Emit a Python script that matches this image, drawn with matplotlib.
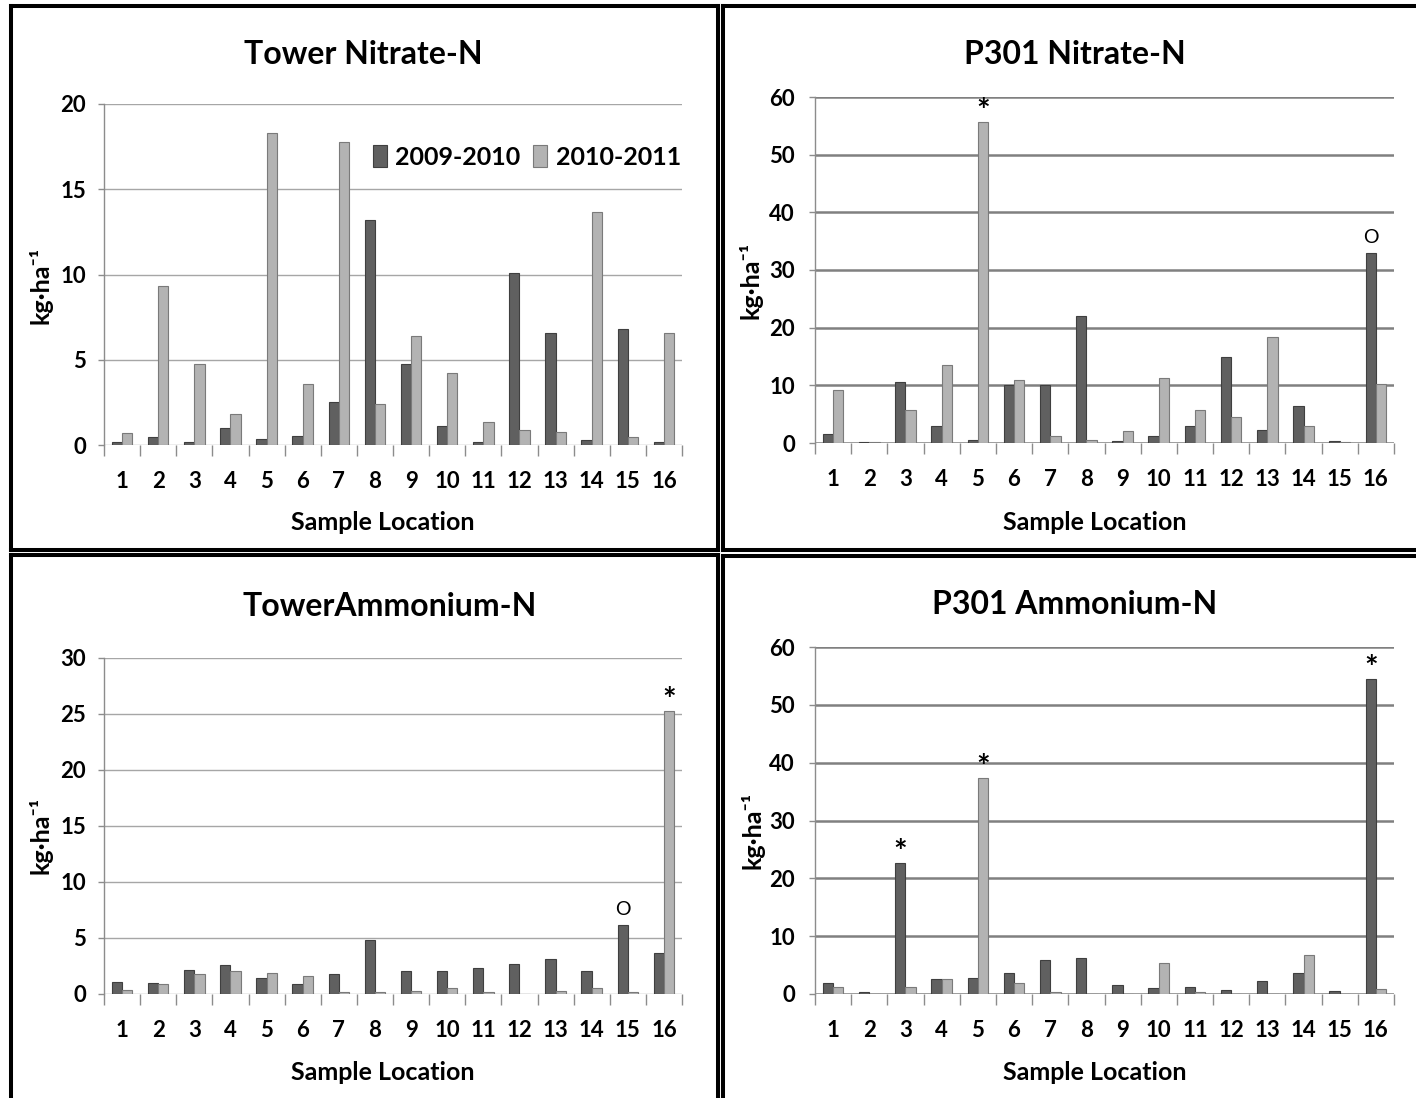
import matplotlib
matplotlib.use("Agg")
import matplotlib.pyplot as plt
from matplotlib.lines import Line2D

plt.rcParams['font.family'] = ['Lato', 'DejaVu Sans']
plt.rcParams['font.weight'] = 'bold'

# sample locations and series
locations = list(range(1, 17))
series_names = ["2009-2010", "2010-2011"]

tower_nitrate_0910 = [0.2, 0.45, 0.2, 1.0, 0.35, 0.5, 2.5, 13.2, 4.75, 1.1, 0.2, 10.1, 6.55, 0.3, 6.8, 0.15]
tower_nitrate_1011 = [0.7, 9.35, 4.75, 1.8, 18.3, 3.55, 17.8, 2.4, 6.4, 4.2, 1.35, 0.9, 0.75, 13.65, 0.45, 6.55]

p301_nitrate_0910 = [1.6, 0.15, 10.5, 2.9, 0.6, 10.1, 10.1, 22.1, 0.3, 1.3, 2.9, 14.9, 2.3, 6.5, 0.3, 33.0]
p301_nitrate_1011 = [9.25, 0.15, 5.8, 13.6, 55.6, 11.0, 1.2, 0.6, 2.15, 11.35, 5.8, 4.5, 18.45, 3.0, 0.1, 10.3]

tower_ammonium_0910 = [1.1, 1.0, 2.15, 2.6, 1.45, 0.9, 1.8, 4.8, 2.05, 2.05, 2.35, 2.7, 3.15, 2.05, 6.15, 3.65]
tower_ammonium_1011 = [0.4, 0.85, 1.8, 2.05, 1.9, 1.65, 0.2, 0.2, 0.3, 0.5, 0.2, 0.0, 0.3, 0.5, 0.2, 25.3]

p301_ammonium_0910 = [1.9, 0.35, 22.65, 2.55, 2.75, 3.6, 5.8, 6.15, 1.55, 1.05, 1.2, 0.7, 2.25, 3.65, 0.5, 54.45]
p301_ammonium_1011 = [1.15, 0.0, 1.15, 2.55, 37.3, 1.9, 0.35, 0.0, 0.0, 5.35, 0.35, 0.0, 0.0, 6.75, 0.0, 0.95]

# markers above bars: (location, series index, symbol)
p301_nitrate_marks = [(5, 1, "*"), (16, 0, "O")]
tower_ammonium_marks = [(15, 0, "O"), (16, 1, "*")]
p301_ammonium_marks = [(3, 0, "*"), (5, 1, "*"), (16, 0, "*")]

W, H = 1416, 1098
fig = plt.figure(figsize=(W / 100, H / 100), dpi=100)
fig.patch.set_facecolor("white")


def fx(x):
    return x / W


def fy(y):
    return 1 - y / H


dark = "#606060"
light = "#b3b3b3"
bw = 0.285


def panel(box, title, title_xy, xlab_xy, ylab_xy, v0, v1, ymax, ystep, marks, grid_col, grid_lw, ypad):
    left, top, right, bottom = box
    ax = fig.add_axes([fx(left), fy(bottom), (right - left) / W, (bottom - top) / H])
    xs = locations
    b0 = ax.bar([x - bw / 2 for x in xs], v0, bw, color=dark, edgecolor="#3f3f3f", lw=0.8, zorder=3, label=series_names[0])
    b1 = ax.bar([x + bw / 2 for x in xs], v1, bw, color=light, edgecolor="#7a7a7a", lw=0.8, zorder=3, label=series_names[1])
    vals = [v0, v1]
    for loc, s, sym in marks:
        x = loc - bw / 2 if s == 0 else loc + bw / 2
        v = vals[s][loc - 1]
        if sym == "*":
            ax.annotate(sym, (x, v), xytext=(0, 0), textcoords="offset points",
                        ha="center", va="baseline", fontsize=23, fontweight="bold")
        else:
            ax.annotate(sym, (x, v), xytext=(0, 7), textcoords="offset points",
                        ha="center", va="baseline", fontsize=14, fontweight="normal")
    ax.set_xlim(0.5, 16.5)
    ax.set_ylim(0, ymax)
    ax.set_yticks(range(0, ymax + 1, ystep))
    ax.set_xticks(xs)
    ax.set_xticks([x + 0.5 for x in range(0, 17)], minor=True)
    ax.tick_params(axis="x", which="major", length=0, pad=19, labelsize=16)
    ax.tick_params(axis="x", which="minor", length=8, color="#8c8c8c", width=1)
    ax.tick_params(axis="y", length=4.5, color="#8c8c8c", width=1, pad=ypad, labelsize=16)
    for s in ["top", "right", "bottom"]:
        ax.spines[s].set_visible(False)
    ax.spines["left"].set_color("#8c8c8c")
    ax.spines["left"].set_linewidth(1)
    ax.yaxis.grid(True, color=grid_col, lw=grid_lw, zorder=0)
    ax.set_axisbelow(True)
    fig.text(fx(title_xy[0]), fy(title_xy[1]), title, ha="center", va="center", fontsize=23)
    fig.text(fx(xlab_xy[0]), fy(xlab_xy[1]), "Sample Location", ha="center", va="center", fontsize=18)
    fig.text(fx(ylab_xy[0]), fy(ylab_xy[1]), "kg\u00b7ha\u207b\u00b9", ha="center", va="center",
             rotation=90, fontsize=18)
    return ax, b0, b1


ax1, h0, h1 = panel((104, 104, 682, 445), "Tower Nitrate-N", (363, 55), (383, 523), (40, 285),
                    tower_nitrate_0910, tower_nitrate_1011, 20, 5, [], "#a6a6a6", 1.0, 8.5)
ax1.legend(handles=[h0, h1], loc="center", bbox_to_anchor=(fx(527), fy(157)),
           bbox_transform=fig.transFigure, ncol=2, frameon=False, fontsize=18,
           handlelength=0.55, handleheight=0.95, handletextpad=0.35, columnspacing=0.5)

panel((815, 97, 1394, 443), "P301 Nitrate-N", (1075, 55), (1095, 522), (750, 280),
      p301_nitrate_0910, p301_nitrate_1011, 60, 10, p301_nitrate_marks, "#808080", 1.8, 10)
panel((104, 658, 682, 994), "TowerAmmonium-N", (390, 606), (383, 1073), (40, 835),
      tower_ammonium_0910, tower_ammonium_1011, 30, 5, tower_ammonium_marks, "#a6a6a6", 1.0, 8.5)
panel((815, 647, 1394, 994), "P301 Ammonium-N", (1075, 605), (1095, 1073), (752, 830),
      p301_ammonium_0910, p301_ammonium_1011, 60, 10, p301_ammonium_marks, "#808080", 1.8, 10)

# black panel frames
frame_lw = 2.9
for (x0, y0, x1, y1) in [
    (11, 5.5, 718, 5.5), (11, 5.5, 11, 550), (718, 5.5, 718, 550), (11, 550, 718, 550),
    (723, 5.5, 1420, 5.5), (723, 5.5, 723, 549.5), (723, 549.5, 1420, 549.5),
    (11, 555, 718, 555), (11, 555, 11, 1102), (718, 555, 718, 1102),
    (723, 555.5, 1420, 555.5), (723, 555.5, 723, 1102),
]:
    fig.add_artist(Line2D([fx(x0), fx(x1)], [fy(y0), fy(y1)], transform=fig.transFigure,
                          color="black", lw=frame_lw, solid_capstyle="projecting"))

fig.savefig("out.png", dpi=100, facecolor="white")
